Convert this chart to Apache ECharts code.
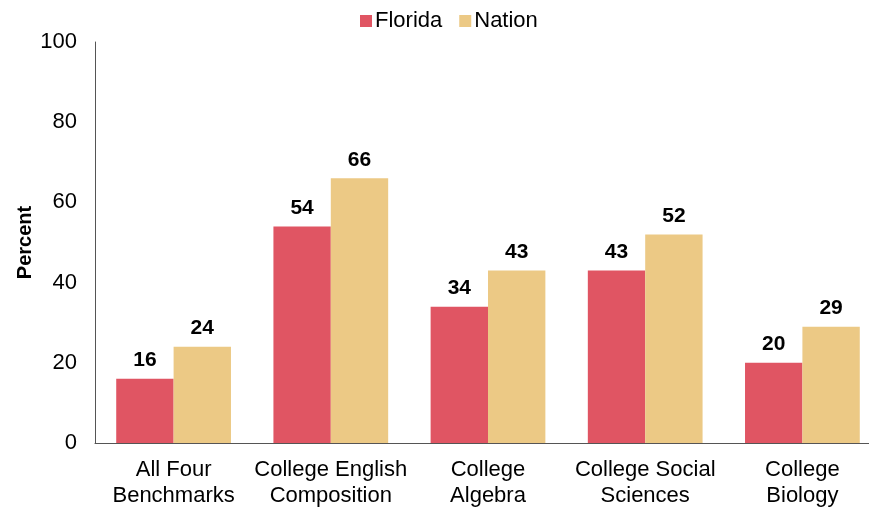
<!DOCTYPE html>
<html><head><meta charset="utf-8">
<script src="https://cdn.jsdelivr.net/npm/echarts@6/dist/echarts.min.js"></script>
<style>html,body{margin:0;padding:0;background:#fff;overflow:hidden}#c{width:881px;height:509px}</style>
</head><body><div id="c"></div>
<script>
var categories = ["All Four\nBenchmarks", "College English\nComposition", "College\nAlgebra", "College Social\nSciences", "College\nBiology"];
var florida = [16, 54, 34, 43, 20];
var nation = [24, 66, 43, 52, 29];
var yTicks = [0, 20, 40, 60, 80, 100];

var chart = echarts.init(document.getElementById('c'));
var font = "'Liberation Sans', Arial, Helvetica, sans-serif";
chart.setOption({
  animation: false,
  textStyle: {fontFamily: font},
  legend: {
    top: 5, left: 355,
    itemWidth: 12, itemHeight: 12, itemGap: 17,
    icon: 'rect',
    textStyle: {fontSize: 22, color: '#000', fontFamily: font, padding: [0,0,0,-2]},
    data: ['Florida', 'Nation']
  },
  grid: {left: 95, right: 0, top: 42, bottom: 66, containLabel: false},
  xAxis: {
    type: 'category', data: categories,
    axisLine: {lineStyle: {color: '#555', width: 1}},
    axisTick: {show: false},
    axisLabel: {fontSize: 22, color: '#000', lineHeight: 26, margin: 14, interval: 0, fontFamily: font}
  },
  yAxis: {
    type: 'value', min: 0, max: 100, interval: 20,
    name: 'Percent', nameLocation: 'middle', nameGap: 60, nameRotate: 90, nameMoveOverlap: false,
    nameTextStyle: {fontSize: 20, fontWeight: 'bold', color: '#000', fontFamily: font},
    axisLine: {show: true, lineStyle: {color: '#555', width: 1}},
    axisTick: {show: false},
    splitLine: {show: false},
    axisLabel: {fontSize: 22, color: '#000', margin: 18, fontFamily: font,
      formatter: function(v){ return yTicks.indexOf(v) >= 0 ? String(v) : ''; }}
  },
  series: [
    {name: 'Florida', type: 'bar', data: florida, barGap: '0%', barCategoryGap: '27%',
     itemStyle: {color: '#E05563'},
     label: {show: true, position: 'top', distance: 8, fontSize: 21, fontWeight: 'bold', color: '#000', fontFamily: font}},
    {name: 'Nation', type: 'bar', data: nation, barGap: '0%', barCategoryGap: '27%',
     itemStyle: {color: '#ECC985'},
     label: {show: true, position: 'top', distance: 8, fontSize: 21, fontWeight: 'bold', color: '#000', fontFamily: font}}
  ]
});
</script></body></html>
